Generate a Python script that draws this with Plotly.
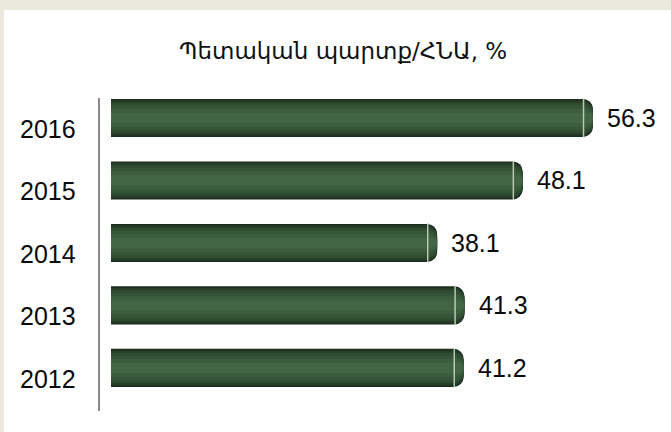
import plotly.graph_objects as go

# data
years = ["2012", "2013", "2014", "2015", "2016"]
debt_ratio = [41.2, 41.3, 38.1, 48.1, 56.3]
value_text = ["41.2", "41.3", "38.1", "48.1", "56.3"]
title_text = "Պետական պարտք/ՀՆԱ, %"

W, H = 671, 432
ML, MR, MT, MB = 100, 0, 98, 21
plot_w = W - ML - MR
plot_h = H - MT - MB

# fake a cylinder shading with stacked bars of shrinking width
layers = [
    (0.61, "#1c2d1d"),
    (0.56, "#263d27"),
    (0.49, "#2f4b31"),
    (0.40, "#365538"),
    (0.29, "#3c5e3e"),
    (0.16, "#426543"),
]

fig = go.Figure()
for width, color in layers:
    fig.add_trace(go.Bar(
        x=debt_ratio, y=years, orientation="h",
        width=width, marker=dict(color=color, line=dict(width=0), cornerradius=10),
        hoverinfo="skip", showlegend=False,
    ))

# light rim where the cylinder cap starts
fig.add_trace(go.Scatter(
    x=[v - 1.1 for v in debt_ratio], y=years, mode="markers",
    marker=dict(symbol="line-ns", size=28, line=dict(color="#b9c7b3", width=1.5)),
    hoverinfo="skip", showlegend=False,
))

# category axis: annotations need the category index
for i, (yr, v, t) in enumerate(zip(years, debt_ratio, value_text)):
    fig.add_annotation(x=v, y=i, text=t, showarrow=False, xanchor="left",
                       xshift=12, font=dict(family="Liberation Sans", size=25, color="#0a0a0a"))
    # year labels sit a bit lower than the bars
    fig.add_annotation(x=0, xref="paper", y=i, text=yr, showarrow=False,
                       xanchor="right", xshift=-22, yshift=-11,
                       font=dict(family="Liberation Sans", size=25, color="#0a0a0a"))


# beige frame strips (top and left)
def px_x(X):
    return (X - ML) / plot_w


def px_y(Y):
    return (H - MB - Y) / plot_h


beige = "#ebe8dd"
fig.add_shape(type="rect", xref="paper", yref="paper", x0=px_x(0), x1=px_x(W),
              y0=px_y(10), y1=px_y(0), fillcolor=beige, line=dict(width=0))
fig.add_shape(type="rect", xref="paper", yref="paper", x0=px_x(0), x1=px_x(4),
              y0=px_y(H), y1=px_y(0), fillcolor=beige, line=dict(width=0))

fig.add_annotation(x=px_x(343), xref="paper", y=px_y(36), yref="paper",
                   text=title_text, showarrow=False,
                   font=dict(family="DejaVu Sans", size=23, color="#111"))

fig.update_layout(
    width=W, height=H,
    margin=dict(l=ML, r=MR, t=MT, b=MB),
    barmode="overlay",
    paper_bgcolor="white", plot_bgcolor="white",
    xaxis=dict(range=[-11 / 8.56, -11 / 8.56 + plot_w / 8.56], visible=False),
    yaxis=dict(type="category", range=[-0.69, 4.32], showticklabels=False,
               showgrid=False, zeroline=False, showline=True,
               linecolor="#8a8a8a", linewidth=1.5, ticks=""),
)

fig.write_html("out.html", config={"displayModeBar": False},
               post_script="document.body.style.margin='0';")
